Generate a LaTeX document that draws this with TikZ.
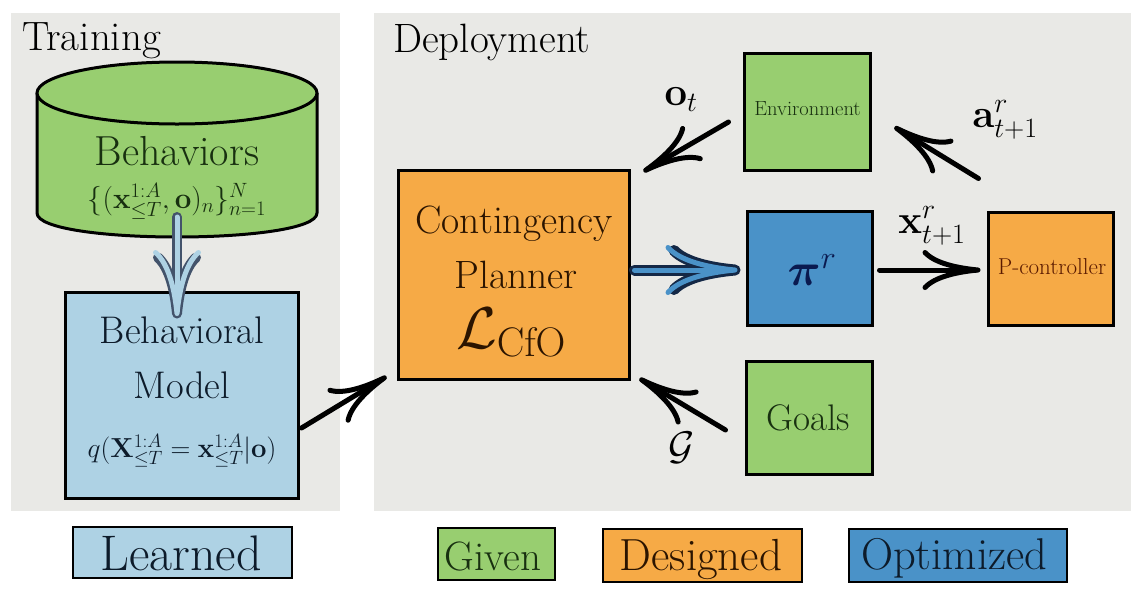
\RequirePackage{fix-cm}
\documentclass[tikz,border=0pt]{standalone}
\usepackage{amsmath,amssymb,bm}
\usetikzlibrary{arrows.meta,calc}
\definecolor{panelgray}{RGB}{233,233,230}
\definecolor{givgreen}{RGB}{152,206,112}
\definecolor{learnblue}{RGB}{174,210,228}
\definecolor{desorange}{RGB}{246,170,70}
\definecolor{optblue}{RGB}{74,146,200}
\definecolor{navyline}{RGB}{20,40,70}
\definecolor{txtgreen}{RGB}{24,48,16}
\definecolor{txtnavy}{RGB}{13,27,42}
\definecolor{txtbrown}{RGB}{43,20,0}
\definecolor{txtred}{RGB}{90,26,0}
\definecolor{pinavy}{RGB}{10,26,80}
\newcommand\fsz[1]{\fontsize{#1}{#1}\selectfont}
\begin{document}
\begin{tikzpicture}[x=1pt,y=-1pt,
  box/.style={draw=black, line width=3pt, inner sep=0pt},
  legbox/.style={draw=black, line width=2pt, inner sep=0pt},
  txt/.style={inner sep=0pt, anchor=base},
  blk/.style={line width=5pt, line cap=round, draw=black,
    -{Computer Modern Rightarrow[length=58pt,width=40pt,round]}},
]
\useasboundingbox (0,0) rectangle (1142,595);
\fill[white] (0,0) rectangle (1142,595);
% panels
\fill[panelgray] (11,13) rectangle (340,511);
\fill[panelgray] (374,13) rectangle (1131,511);
\node[txt, anchor=base west] (ttrain) at (22,50) {\fsz{41}Training};
\node[txt, anchor=base west] (tdeploy) at (393,52) {\fsz{41}Deployment};

% cylinder
\fill[givgreen] (37,93) -- (37,213) .. controls (37,245) and (317,245) .. (317,213) -- (317,93) -- cycle;
\draw[line width=3pt, line join=round] (37,93) -- (37,213) .. controls (37,245) and (317,245) .. (317,213) -- (317,93);
\draw[line width=3pt, fill=givgreen] (177,93) ellipse [x radius=140pt, y radius=31pt];
\node[txt, text=txtgreen] (tbeh) at (177,165) {\fsz{42}Behaviors};
\node[txt, text=txtgreen] (tbehf) at (177,208) {\fsz{29.5}$\{(\mathbf{x}^{1:A}_{\leq T},\mathbf{o})_n\}^N_{n=1}$};
\coordinate (bstart) at (177,217);

% boxes
\node[box, fill=learnblue, minimum width=233pt, minimum height=206pt] (bm) at (181.5,395) {};
\node[box, fill=desorange, minimum width=231pt, minimum height=209pt] (cp) at (513.5,274.5) {};
\node[box, fill=givgreen, minimum width=126pt, minimum height=117pt] (env) at (807,111.5) {};
\node[box, fill=optblue, minimum width=125pt, minimum height=114pt] (pi) at (809.5,268) {};
\node[box, fill=desorange, minimum width=125pt, minimum height=113pt] (pc) at (1050.5,268.5) {};
\node[box, fill=givgreen, minimum width=126pt, minimum height=113pt] (goals) at (809,417.5) {};

% box texts
\node[txt, text=txtnavy] (tbm1) at (182,343) {\fsz{38.5}Behavioral};
\node[txt, text=txtnavy] (tbm2) at (182,398) {\fsz{38.5}Model};
\node[txt, text=txtnavy] (tbm3) at (182,457) {\fsz{27.5}$q(\mathbf{X}^{1:A}_{\leq T}=\mathbf{x}^{1:A}_{\leq T}|\mathbf{o})$};
\node[txt, text=txtbrown] (tcp1) at (514,233) {\fsz{39.5}Contingency};
\node[txt, text=txtbrown] (tcp2) at (516,288) {\fsz{39.5}Planner};
\node[txt, text=txtbrown] (tcp3) at (511,348) {\fsz{59}$\mathcal{L}_{\mathrm{CfO}}$};
\node[txt, text=txtgreen] (tenv) at (807.5,115) {\fsz{20.5}Environment};
\node[txt, text=txtred] (tpc) at (1052,274) {\fsz{23}P-controller};
\node[txt, text=txtgreen] (tgoals) at (808,430) {\fsz{37}Goals};
\node[txt, text=pinavy] (tpi) at (812,285) {\fsz{46}$\boldsymbol{\pi}^{r}$};

% labels
\node[inner sep=0pt] (lot) at (681,100) {\fsz{40}$\mathbf{o}_t$};
\node[inner sep=0pt] (lat) at (1005,120) {\fsz{40}$\mathbf{a}^r_{t+1}$};
\node[inner sep=0pt] (lxt) at (932,226) {\fsz{40}$\mathbf{x}^r_{t+1}$};
\node[inner sep=0pt] (lg) at (682,448) {\fsz{40}$\mathcal{G}$};

% connectors
\draw[blk] ($(env.west)+(-14,10.5)$) -- ($(cp.north east)+(13,3)$);
\draw[blk] ($(pc.north west)+(-8,-32)$) -- ($(env.east)+(23,15.5)$);
\draw[blk] ($(pi.east)+(6,2)$) -- ($(pc.west)+(-6,1.5)$);
\draw[blk] ($(goals.west)+(-19,12.5)$) -- ($(cp.south east)+(9,-2)$);
\draw[blk] ($(bm.east)+(2,33)$) -- ($(cp.south west)+(-10,-4)$);

% blue thick arrow planner -> pi
\draw[line width=11pt, line cap=round, draw=navyline,
  -{Computer Modern Rightarrow[length=72pt,width=50pt,round]}]
  ($(cp.east)+(4,-4.5)$) -- ($(pi.west)+(-5,2)$);
\draw[line width=5pt, line cap=round, draw=optblue,
  -{Computer Modern Rightarrow[length=72pt,width=50pt,round]}]
  ($(cp.east)+(4,-4.5)$) -- ($(pi.west)+(-8,2)$);

% light blue arrow behaviors -> model
\draw[line width=10pt, line cap=round, draw=navyline!80,
  -{Computer Modern Rightarrow[length=66pt,width=48pt,round]}]
  (bstart) -- ($(bstart |- bm.north)+(0,28)$);
\draw[line width=5pt, line cap=round, draw=learnblue,
  -{Computer Modern Rightarrow[length=66pt,width=48pt,round]}]
  (bstart) -- ($(bstart |- bm.north)+(0,25.5)$);

% legend
\node[legbox, fill=learnblue, minimum width=219pt, minimum height=51pt] (legl) at (182.5,552.5) {};
\node[legbox, fill=givgreen, minimum width=117pt, minimum height=52pt] (legg) at (496.5,554) {};
\node[legbox, fill=desorange, minimum width=199pt, minimum height=53pt] (legd) at (702.5,555) {};
\node[legbox, fill=optblue, minimum width=218pt, minimum height=53pt] (lego) at (958,555.5) {};
\node[txt, text=txtnavy] (tlegl) at (181,570) {\fsz{50}Learned};
\node[txt, text=txtgreen] (tlegg) at (493,570) {\fsz{41}Given};
\node[txt, text=txtbrown] (tlegd) at (701,570) {\fsz{45}Designed};
\node[txt, text=txtnavy] (tlego) at (954,569) {\fsz{44.5}Optimized};
\end{tikzpicture}
\end{document}
